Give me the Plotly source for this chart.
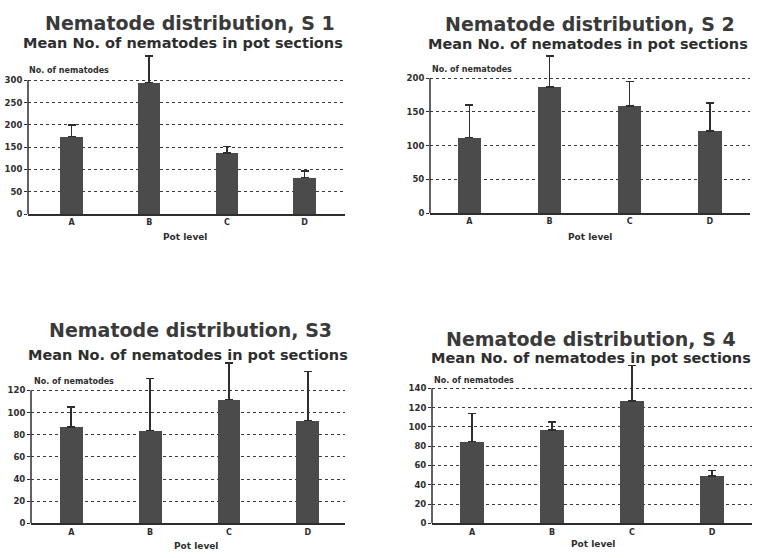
import plotly.graph_objects as go

categories = ["A", "B", "C", "D"]

s1_means = [174, 295, 137, 82]
s1_err = [26, 59, 15, 15]
s2_means = [112, 187, 159, 122]
s2_err = [48, 46, 36, 41]
s3_means = [87, 84, 112, 93]
s3_err = [18, 47, 33, 44]
s4_means = [85, 97, 127, 49]
s4_err = [29, 8, 37, 6]

titles = ["Nematode distribution, S 1", "Nematode distribution, S 2",
          "Nematode distribution, S3", "Nematode distribution, S 4"]
subtitle = "Mean No. of nematodes in pot sections"
y_tickvals = [
    [0, 50, 100, 150, 200, 250, 300],
    [0, 50, 100, 150, 200],
    [0, 20, 40, 60, 80, 100, 120],
    [0, 20, 40, 60, 80, 100, 120, 140],
]

W, H = 760, 558
EXT = 34  # extra pixels above top tick so error bars are not clipped
panels = [
    dict(l=28, r=345, t=81, b=216, xr=[-0.56, 3.52], tcx=190, scx=183, ty=23, sty=43, ylab=(27, 71), px=185, py=239),
    dict(l=430, r=750, t=79, b=215, xr=[-0.49, 3.5], tcx=590, scx=588, ty=24, sty=44, ylab=(430, 70), px=590, py=239),
    dict(l=31, r=345, t=394, b=528, xr=[-0.51, 3.47], tcx=190, scx=188, ty=333, sty=358, ylab=(32, 385), px=196, py=551),
    dict(l=432, r=752, t=392, b=528, xr=[-0.5, 3.5], tcx=591, scx=591, ty=342, sty=361, ylab=(432, 384), px=593, py=549),
]
means = [s1_means, s2_means, s3_means, s4_means]
errs = [s1_err, s2_err, s3_err, s4_err]

FONT = "DejaVu Sans, Verdana, sans-serif"
BAR = "#4b4b4b"
INK = "#2e2e2e"

fig = go.Figure()
annotations = []
shapes = []
layout = {}
for i, p in enumerate(panels):
    n = "" if i == 0 else str(i + 1)
    fig.add_trace(go.Bar(
        x=categories, y=means[i], width=0.29,
        marker=dict(color=BAR, line=dict(width=0)),
        error_y=dict(type="data", symmetric=False, array=errs[i], arrayminus=[0] * 4,
                     color=INK, thickness=1.5, width=4),
        xaxis="x" + n, yaxis="y" + n, showlegend=False,
    ))
    tv = y_tickvals[i]
    ppu = (p["b"] - p["t"]) / tv[-1]
    top = tv[-1] + EXT / ppu
    layout["xaxis" + n] = dict(
        domain=[p["l"] / W, p["r"] / W], anchor="y" + n, range=p["xr"],
        type="category", showgrid=False, showline=True, linecolor=INK, linewidth=1.5,
        ticks="", tickfont=dict(family=FONT, size=8, color=INK, weight="bold"), fixedrange=True,
    )
    layout["yaxis" + n] = dict(
        domain=[1 - p["b"] / H, 1 - (p["t"] - EXT) / H], anchor="x" + n,
        range=[0, top], tickvals=tv, ticktext=[str(v) for v in tv],
        showgrid=True, gridcolor="#3a3a3a", griddash="dot", gridwidth=1,
        showline=False, ticks="outside", ticklen=3,
        tickcolor=INK, tickfont=dict(family=FONT, size=8.5, color=INK, weight="bold"),
        zeroline=False, fixedrange=True,
    )
    shapes.append(dict(type="line", xref="x" + n + " domain", yref="y" + n,
                       x0=0, x1=0, y0=0, y1=tv[-1], line=dict(color=INK, width=1.5)))
    annotations.append(dict(text="<b>" + titles[i] + "</b>", x=p["tcx"] / W, y=1 - p["ty"] / H,
                            xref="paper", yref="paper", showarrow=False,
                            xanchor="center", yanchor="middle",
                            font=dict(family=FONT, size=19, color="#3a3a3a")))
    annotations.append(dict(text="<b>" + subtitle + "</b>", x=p["scx"] / W, y=1 - p["sty"] / H,
                            xref="paper", yref="paper", showarrow=False,
                            xanchor="center", yanchor="middle",
                            font=dict(family=FONT, size=14.5, color=INK)))
    annotations.append(dict(text="<b>No. of nematodes</b>", x=p["ylab"][0] / W, y=1 - p["ylab"][1] / H,
                            xref="paper", yref="paper", showarrow=False,
                            xanchor="left", yanchor="middle",
                            font=dict(family=FONT, size=8, color=INK)))
    annotations.append(dict(text="<b>Pot level</b>", x=p["px"] / W, y=1 - p["py"] / H,
                            xref="paper", yref="paper", showarrow=False,
                            xanchor="center", yanchor="middle",
                            font=dict(family=FONT, size=9, color=INK)))

fig.update_layout(
    width=W, height=H, margin=dict(l=0, r=0, t=0, b=0),
    paper_bgcolor="white", plot_bgcolor="white",
    annotations=annotations, shapes=shapes, bargap=0, **layout,
)
fig.write_html("out.html")
